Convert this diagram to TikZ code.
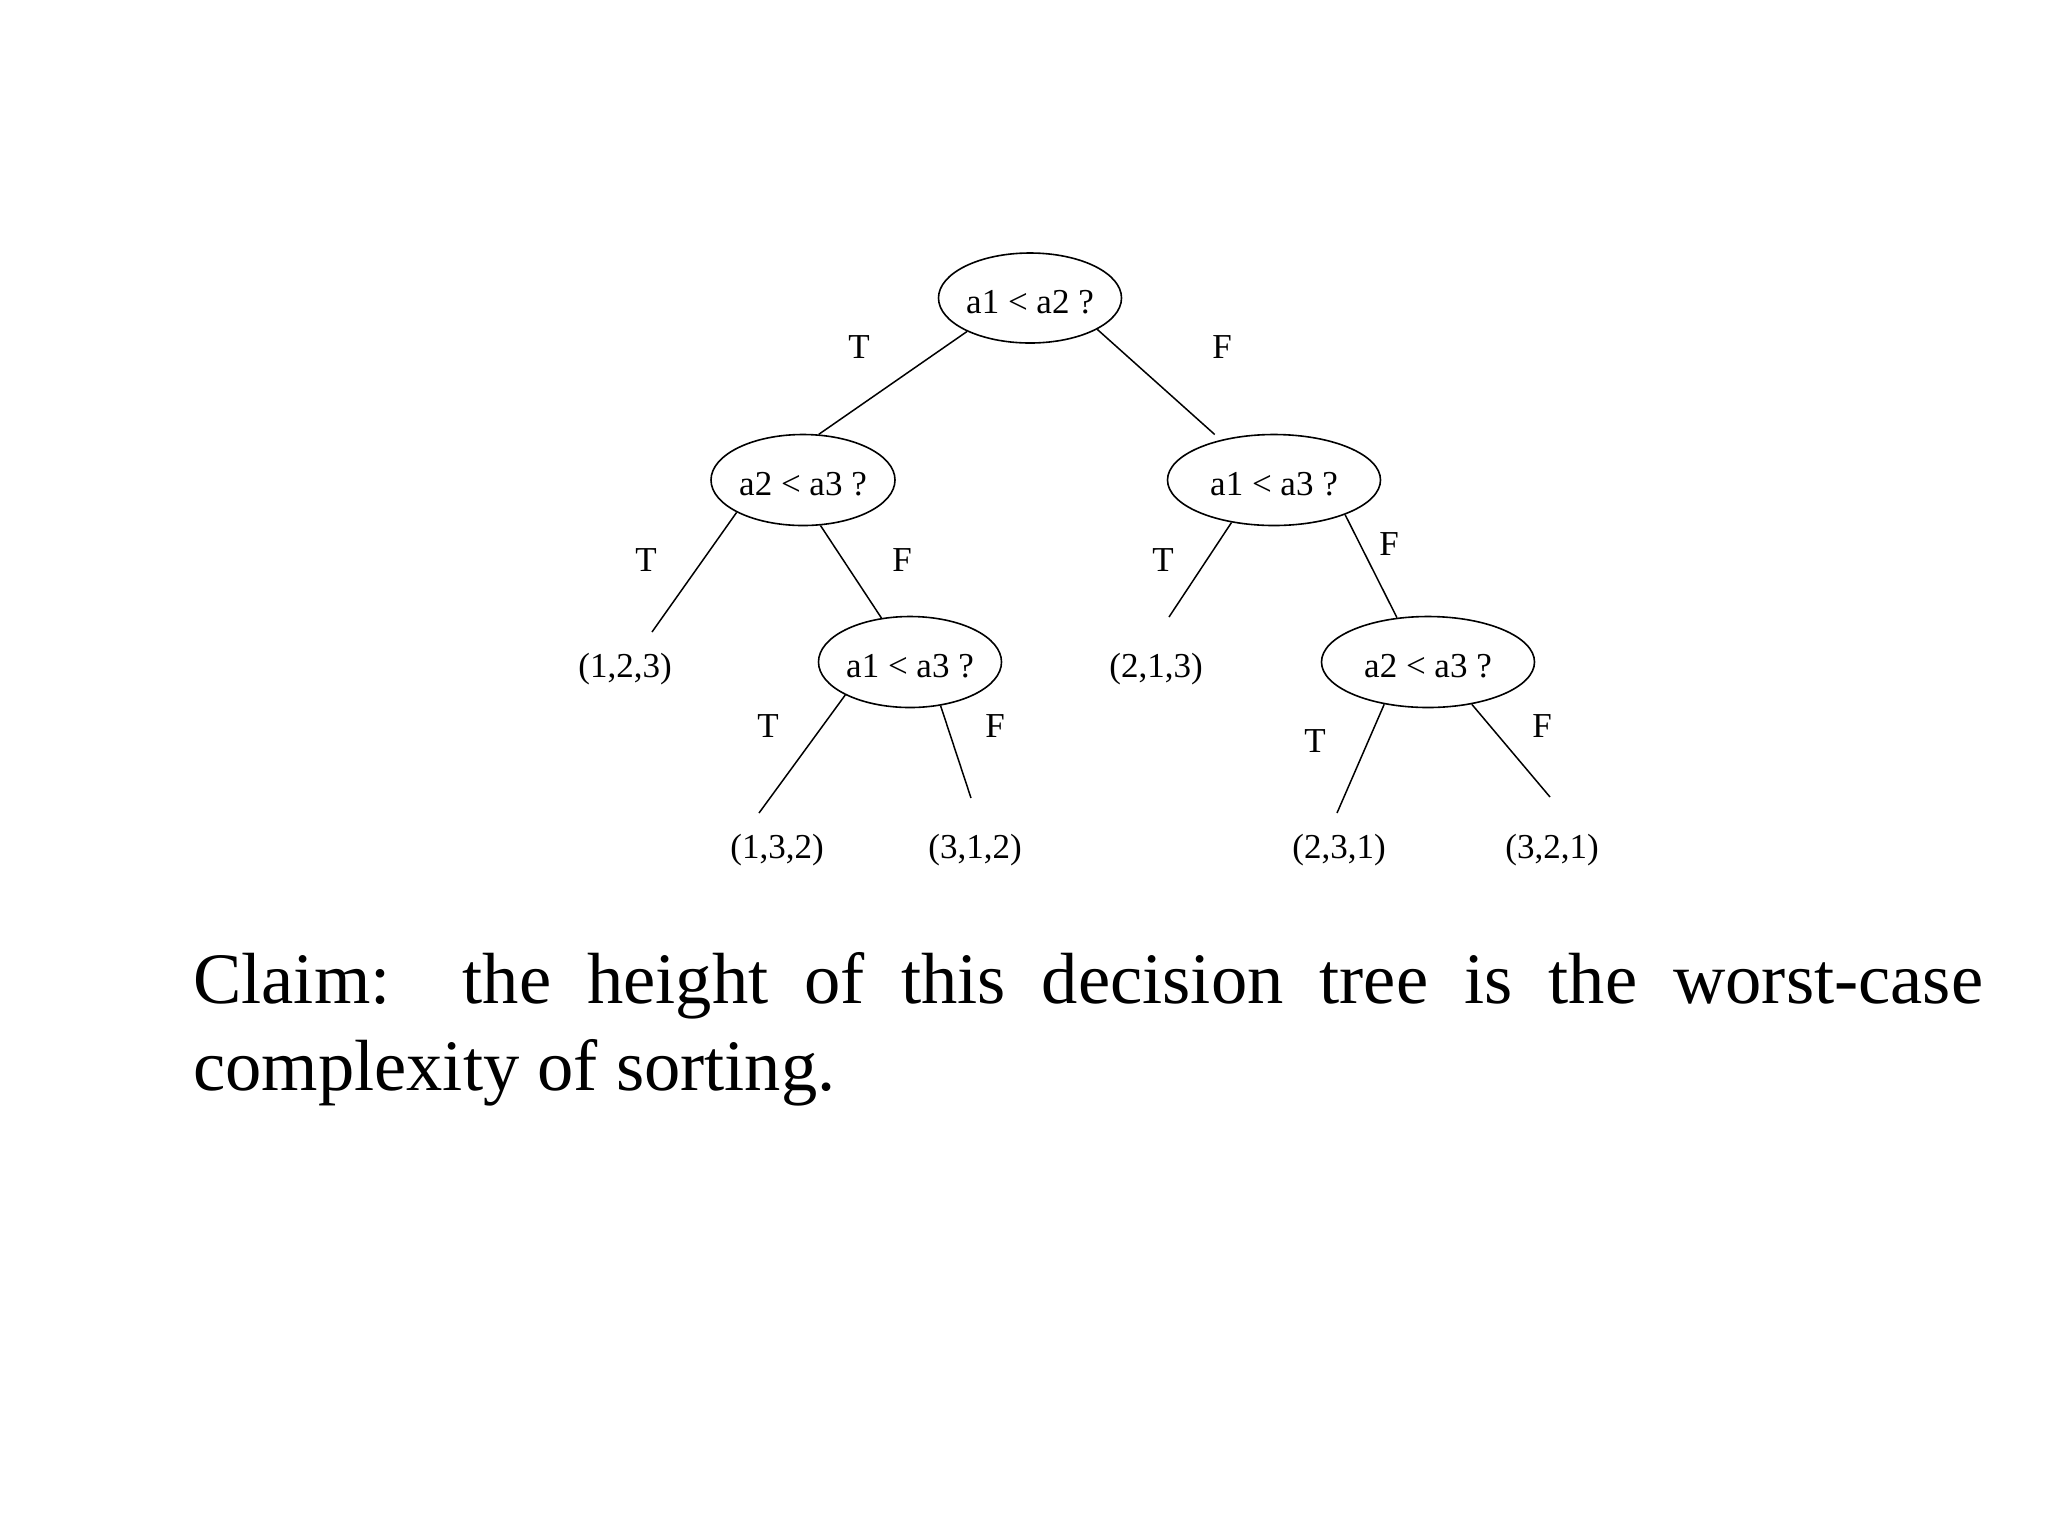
\documentclass[tikz,border=0pt]{standalone}
\usepackage{fontspec}
\setmainfont{Liberation Serif}
\usetikzlibrary{shapes.geometric}
\tikzset{
  q/.style={ellipse, draw, line width=1.6pt, inner sep=0pt, text height=30pt, text depth=0pt, font=\fontsize{35}{40}\selectfont},
  leaf/.style={inner sep=0pt, font=\fontsize{35}{40}\selectfont},
  lab/.style={inner sep=0pt, font=\fontsize{35}{40}\selectfont},
  edge/.style={line width=1.5pt}
}
\begin{document}
\begin{tikzpicture}[x=1pt,y=-1pt]
\fill[white] (0,0) rectangle (2048,1535);
\useasboundingbox (0,0) rectangle (2048,1535);
% decision nodes
\node[q, minimum width=183pt, minimum height=90pt] (root) at (1030,298) {a1 < a2 ?};
\node[q, minimum width=184pt, minimum height=91pt] (L) at (803,480) {a2 < a3 ?};
\node[q, minimum width=213pt, minimum height=91pt] (R) at (1274,480) {a1 < a3 ?};
\node[q, minimum width=183pt, minimum height=91pt] (LL) at (910,662) {a1 < a3 ?};
\node[q, minimum width=213pt, minimum height=91pt] (RR) at (1428,662) {a2 < a3 ?};
% leaves
\node[leaf] (l123) at (625,669) {(1,2,3)};
\node[leaf] (l213) at (1156,669) {(2,1,3)};
\node[leaf] (l132) at (777,850) {(1,3,2)};
\node[leaf] (l312) at (975,850) {(3,1,2)};
\node[leaf] (l231) at (1339,850) {(2,3,1)};
\node[leaf] (l321) at (1552,850) {(3,2,1)};
% free ends of connectors above the leaves
\coordinate (e123) at (652,632);
\coordinate (e213) at (1169,617);
\coordinate (e132) at (759,813);
\coordinate (e312) at (971,798);
\coordinate (e231) at (1337,813);
\coordinate (e321) at (1550,797);
% connectors
\draw[edge] (root.208) -- (L.71);
\draw[edge, shorten >=8pt] (root.335) -- (R.143);
\draw[edge] (L.206) -- (e123);
\draw[edge] (L.291) -- (LL.123);
\draw[edge] (R.225) -- (e213);
\draw[edge] (R.334) -- (RR.125);
\draw[edge] (LL.207) -- (e132);
\draw[edge] (LL.305) -- (e312);
\draw[edge] (RR.224) -- (e231);
\draw[edge] (RR.316) -- (e321);
% branch labels
\node[lab] (t0) at (859,347) {T};
\node[lab] (f0) at (1222,347) {F};
\node[lab] (t1) at (646,560) {T};
\node[lab] (f1) at (902,560) {F};
\node[lab] (t2) at (1163,560) {T};
\node[lab] (f2) at (1389,544) {F};
\node[lab] (t3) at (768,726) {T};
\node[lab] (f3) at (995,726) {F};
\node[lab] (t4) at (1315,741) {T};
\node[lab] (f4) at (1542,726) {F};
% claim
\node[anchor=base west, inner sep=0pt, font=\fontsize{72.5}{87}\selectfont] (claim) at (193,1003)
  {\parbox[t]{1790pt}{\hbadness=10000 Claim:\ \ the height of this decision tree is the worst-case\linebreak complexity of sorting.}};
\end{tikzpicture}
\end{document}
